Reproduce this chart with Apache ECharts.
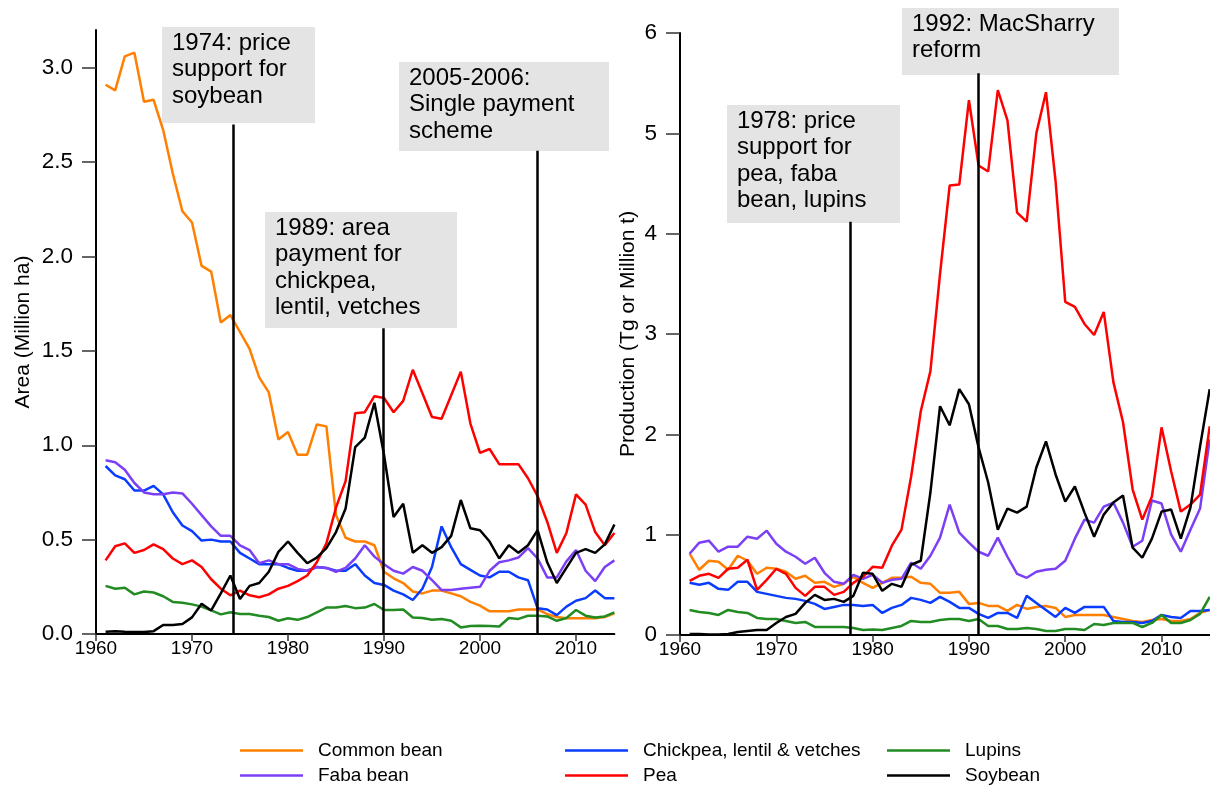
<!DOCTYPE html>
<html>
<head>
<meta charset="utf-8">
<script src="https://cdn.jsdelivr.net/npm/echarts@6/dist/echarts.min.js"></script>
<style>
  html, body { margin: 0; padding: 0; background: #fff; }
  #chart { width: 1210px; height: 789px; }
</style>
</head>
<body>
<div id="chart"></div>
<script>
// years 1961-2015 (area panel stops at 2014)
const years = [1961, 1962, 1963, 1964, 1965, 1966, 1967, 1968, 1969, 1970,
  1971, 1972, 1973, 1974, 1975, 1976, 1977, 1978, 1979, 1980,
  1981, 1982, 1983, 1984, 1985, 1986, 1987, 1988, 1989, 1990,
  1991, 1992, 1993, 1994, 1995, 1996, 1997, 1998, 1999, 2000,
  2001, 2002, 2003, 2004, 2005, 2006, 2007, 2008, 2009, 2010,
  2011, 2012, 2013, 2014, 2015];

const seriesNames = ['Common bean', 'Chickpea, lentil & vetches', 'Lupins', 'Faba bean', 'Pea', 'Soybean'];
const seriesColors = ['#ff7f00', '#0a3cff', '#228b22', '#7b3ff6', '#ff0000', '#000000'];

// Area (Million ha), 1961-2014
const areaCommonBean = [2.91, 2.88, 3.06, 3.08, 2.82, 2.83, 2.67, 2.44, 2.24, 2.18,
  1.95, 1.92, 1.65, 1.69, 1.60, 1.51, 1.36, 1.28, 1.03, 1.07,
  0.95, 0.95, 1.11, 1.10, 0.63, 0.51, 0.49, 0.49, 0.47, 0.33,
  0.295, 0.27, 0.225, 0.215, 0.23, 0.23, 0.215, 0.20, 0.17, 0.15,
  0.12, 0.12, 0.12, 0.13, 0.13, 0.13, 0.105, 0.09, 0.083, 0.083,
  0.083, 0.083, 0.09, 0.11];
const areaChickpea = [0.89, 0.84, 0.82, 0.76, 0.76, 0.785, 0.74, 0.645, 0.575, 0.545,
  0.495, 0.50, 0.49, 0.49, 0.43, 0.40, 0.37, 0.37, 0.37, 0.35,
  0.335, 0.335, 0.355, 0.35, 0.335, 0.335, 0.37, 0.31, 0.27, 0.26,
  0.23, 0.21, 0.18, 0.24, 0.355, 0.57, 0.46, 0.37, 0.34, 0.31,
  0.30, 0.33, 0.33, 0.30, 0.285, 0.136, 0.13, 0.10, 0.145, 0.176,
  0.19, 0.23, 0.19, 0.19];
const areaLupins = [0.255, 0.24, 0.245, 0.21, 0.225, 0.22, 0.20, 0.17, 0.165, 0.157,
  0.145, 0.125, 0.104, 0.115, 0.106, 0.106, 0.097, 0.09, 0.07, 0.083,
  0.075, 0.09, 0.115, 0.14, 0.14, 0.148, 0.137, 0.14, 0.159, 0.127,
  0.127, 0.13, 0.087, 0.085, 0.075, 0.08, 0.07, 0.035, 0.042, 0.044,
  0.042, 0.04, 0.085, 0.08, 0.097, 0.097, 0.093, 0.07, 0.085, 0.127,
  0.097, 0.087, 0.093, 0.115];
const areaFaba = [0.92, 0.91, 0.87, 0.80, 0.75, 0.74, 0.74, 0.75, 0.745, 0.69,
  0.63, 0.57, 0.52, 0.52, 0.47, 0.445, 0.375, 0.39, 0.37, 0.37,
  0.345, 0.335, 0.355, 0.35, 0.33, 0.35, 0.40, 0.47, 0.41, 0.37,
  0.335, 0.32, 0.355, 0.335, 0.285, 0.233, 0.233, 0.24, 0.245, 0.25,
  0.335, 0.38, 0.39, 0.405, 0.455, 0.40, 0.30, 0.30, 0.385, 0.445,
  0.335, 0.28, 0.355, 0.39];
const areaPea = [0.39, 0.465, 0.48, 0.43, 0.445, 0.475, 0.45, 0.40, 0.37, 0.39,
  0.355, 0.29, 0.24, 0.205, 0.23, 0.205, 0.195, 0.21, 0.24, 0.255,
  0.28, 0.31, 0.38, 0.48, 0.67, 0.81, 1.17, 1.175, 1.26, 1.25,
  1.175, 1.235, 1.40, 1.275, 1.15, 1.14, 1.265, 1.39, 1.115, 0.96,
  0.98, 0.90, 0.90, 0.90, 0.825, 0.73, 0.595, 0.43, 0.535, 0.74,
  0.685, 0.54, 0.47, 0.535];
const areaSoybean = [0.012, 0.015, 0.012, 0.01, 0.01, 0.015, 0.048, 0.048, 0.053, 0.088,
  0.16, 0.125, 0.215, 0.31, 0.185, 0.255, 0.27, 0.33, 0.435, 0.49,
  0.43, 0.375, 0.405, 0.455, 0.54, 0.665, 0.99, 1.04, 1.225, 0.95,
  0.62, 0.69, 0.43, 0.47, 0.43, 0.46, 0.52, 0.71, 0.56, 0.55,
  0.49, 0.40, 0.47, 0.43, 0.47, 0.55, 0.38, 0.27, 0.35, 0.43,
  0.45, 0.43, 0.475, 0.58];

// Production (Tg or Million t), 1961-2015
const prodCommonBean = [0.81, 0.65, 0.74, 0.73, 0.65, 0.79, 0.74, 0.61, 0.67, 0.66,
  0.63, 0.56, 0.59, 0.52, 0.53, 0.48, 0.51, 0.58, 0.52, 0.47,
  0.52, 0.57, 0.57, 0.58, 0.52, 0.51, 0.42, 0.42, 0.43, 0.31,
  0.32, 0.29, 0.29, 0.24, 0.30, 0.26, 0.28, 0.29, 0.27, 0.18,
  0.20, 0.20, 0.20, 0.20, 0.18, 0.16, 0.14, 0.13, 0.15, 0.16,
  0.14, 0.14, 0.16, 0.22, 0.25];
const prodChickpea = [0.52, 0.50, 0.52, 0.46, 0.45, 0.53, 0.53, 0.43, 0.41, 0.39,
  0.37, 0.36, 0.34, 0.31, 0.26, 0.28, 0.30, 0.30, 0.29, 0.30,
  0.22, 0.27, 0.30, 0.37, 0.35, 0.32, 0.38, 0.33, 0.27, 0.27,
  0.21, 0.17, 0.22, 0.22, 0.17, 0.39, 0.32, 0.25, 0.18, 0.27,
  0.22, 0.28, 0.28, 0.28, 0.14, 0.13, 0.13, 0.12, 0.14, 0.20,
  0.18, 0.17, 0.24, 0.24, 0.25];
const prodLupins = [0.25, 0.23, 0.22, 0.20, 0.25, 0.23, 0.22, 0.17, 0.16, 0.16,
  0.14, 0.12, 0.13, 0.08, 0.08, 0.08, 0.08, 0.07, 0.05, 0.055,
  0.05, 0.07, 0.09, 0.14, 0.13, 0.13, 0.15, 0.16, 0.16, 0.14,
  0.16, 0.09, 0.09, 0.06, 0.06, 0.07, 0.06, 0.04, 0.04, 0.06,
  0.06, 0.05, 0.11, 0.10, 0.12, 0.12, 0.12, 0.08, 0.12, 0.20,
  0.12, 0.12, 0.15, 0.21, 0.38];
const prodFaba = [0.81, 0.92, 0.94, 0.83, 0.88, 0.88, 0.98, 0.96, 1.04, 0.91,
  0.83, 0.78, 0.71, 0.77, 0.62, 0.53, 0.51, 0.60, 0.56, 0.60,
  0.52, 0.55, 0.56, 0.72, 0.66, 0.79, 0.97, 1.30, 1.02, 0.92,
  0.83, 0.79, 0.97, 0.78, 0.61, 0.57, 0.63, 0.65, 0.66, 0.74,
  0.96, 1.15, 1.12, 1.28, 1.32, 1.12, 0.88, 0.94, 1.34, 1.31,
  1.00, 0.83, 1.05, 1.26, 1.95];
const prodPea = [0.54, 0.59, 0.61, 0.57, 0.66, 0.67, 0.75, 0.45, 0.55, 0.66,
  0.61, 0.47, 0.39, 0.48, 0.48, 0.40, 0.43, 0.52, 0.58, 0.68,
  0.67, 0.89, 1.05, 1.58, 2.23, 2.63, 3.60, 4.48, 4.49, 5.33,
  4.68, 4.62, 5.43, 5.13, 4.21, 4.12, 5.00, 5.41, 4.52, 3.32,
  3.27, 3.10, 2.99, 3.22, 2.52, 2.12, 1.45, 1.15, 1.38, 2.07,
  1.63, 1.23, 1.30, 1.40, 2.08];
const prodSoybean = [0.01, 0.01, 0.005, 0.005, 0.01, 0.03, 0.04, 0.05, 0.05, 0.12,
  0.18, 0.21, 0.32, 0.40, 0.35, 0.36, 0.33, 0.39, 0.62, 0.61,
  0.44, 0.51, 0.48, 0.70, 0.74, 1.42, 2.28, 2.09, 2.45, 2.30,
  1.87, 1.52, 1.05, 1.26, 1.22, 1.28, 1.67, 1.93, 1.60, 1.33,
  1.48, 1.22, 0.98, 1.20, 1.32, 1.39, 0.87, 0.77, 0.96, 1.23,
  1.25, 0.96, 1.27, 1.88, 2.45];

const xTicks = [1960, 1970, 1980, 1990, 2000, 2010];
const areaTicks = [0, 0.5, 1, 1.5, 2, 2.5, 3];
const prodTicks = [0, 1, 2, 3, 4, 5, 6];

// policy events: year where the line stands, value where it meets the note box
const areaEventYears = [1974.3, 1989.9, 2006];
const areaEventTops = [2.70, 1.62, 2.56];
const prodEventYears = [1977.7, 1991];
const prodEventTops = [4.12, 5.60];

const notes = [
  { text: '1974: price\nsupport for\nsoybean', box: [162, 27, 153, 96] },
  { text: '1989: area\npayment for\nchickpea,\nlentil, vetches', box: [265, 212, 192, 116] },
  { text: '2005-2006:\nSingle payment\nscheme', box: [399, 62, 210, 89] },
  { text: '1978: price\nsupport for\npea, faba\nbean, lupins', box: [727, 105, 173, 118] },
  { text: '1992: MacSharry\nreform', box: [902, 8, 217, 67] }
];

const areaData = [areaCommonBean, areaChickpea, areaLupins, areaFaba, areaPea, areaSoybean];
const prodData = [prodCommonBean, prodChickpea, prodLupins, prodFaba, prodPea, prodSoybean];

const FONT = '"Liberation Sans", Arial, sans-serif';

function pairs(vals) {
  return vals.map((v, i) => [years[i], v]);
}

function eventLines(xs, tops) {
  return xs.map((x, i) => [{ coord: [x, 0] }, { coord: [x, tops[i]] }]);
}

function xAxisOpt(gridIndex, max) {
  return {
    type: 'value', gridIndex: gridIndex, min: 1960, max: max,
    splitLine: { show: false },
    axisLine: { lineStyle: { color: '#000', width: 2 } },
    axisTick: { customValues: xTicks, length: 7, lineStyle: { color: '#333', width: 1.5 } },
    axisLabel: { customValues: xTicks, formatter: v => String(v), margin: 5,
      color: '#000', fontSize: 19, fontFamily: FONT }
  };
}

function yAxisOpt(gridIndex, max, ticks, name, gap, fmt) {
  return {
    type: 'value', gridIndex: gridIndex, min: 0, max: max,
    name: name, nameLocation: 'middle', nameRotate: 90, nameGap: gap,
    nameTextStyle: { color: '#000', fontSize: 21, fontFamily: FONT },
    splitLine: { show: false },
    axisLine: { show: true, lineStyle: { color: '#000', width: 2 } },
    axisTick: { show: true, customValues: ticks, length: 14, lineStyle: { color: '#333', width: 1.5 } },
    axisLabel: { customValues: ticks, formatter: fmt, margin: 23,
      color: '#000', fontSize: 22.5, fontFamily: FONT }
  };
}

const series = [];
seriesNames.forEach((name, k) => {
  series.push({
    name: name, type: 'line', xAxisIndex: 0, yAxisIndex: 0,
    data: pairs(areaData[k]), symbol: 'none', silent: true,
    lineStyle: { width: 2.5, color: seriesColors[k] }, itemStyle: { color: seriesColors[k] }
  });
  series.push({
    name: name, type: 'line', xAxisIndex: 1, yAxisIndex: 1,
    data: pairs(prodData[k]), symbol: 'none', silent: true,
    lineStyle: { width: 2.5, color: seriesColors[k] }, itemStyle: { color: seriesColors[k] }
  });
});

const markStyle = {
  symbol: ['none', 'none'], silent: true, animation: false,
  label: { show: false },
  lineStyle: { color: '#000', width: 2.5, type: 'solid' }
};
// attach the policy lines to the soybean series of each panel
series[10].markLine = Object.assign({ data: eventLines(areaEventYears, areaEventTops) }, markStyle);
series[11].markLine = Object.assign({ data: eventLines(prodEventYears, prodEventTops) }, markStyle);

// legend: 3 columns x 2 rows
const legendCols = [240, 565, 887];
const legendRows = [741, 766];
const legends = seriesNames.map((name, k) => ({
  data: [name], left: legendCols[k % 3], top: legendRows[Math.floor(k / 3)],
  padding: 0, icon: 'rect', itemWidth: 63, itemHeight: 2.5,
  selectedMode: false,
  textStyle: { color: '#000', fontSize: 19, fontFamily: FONT, padding: [0, 0, 0, 10] }
}));

const graphics = notes.map(n => ({
  type: 'group', silent: true,
  children: [
    { type: 'rect', shape: { x: n.box[0], y: n.box[1], width: n.box[2], height: n.box[3] },
      style: { fill: '#e4e4e4' } },
    { type: 'text', x: n.box[0] + 10, y: n.box[1] + 3,
      style: { text: n.text, fill: '#000', font: '24px ' + FONT, lineHeight: 26.5,
        verticalAlign: 'top' } }
  ]
}));

const chart = echarts.init(document.getElementById('chart'), null, { renderer: 'canvas' });
chart.setOption({
  animation: false,
  backgroundColor: '#fff',
  grid: [
    { left: 96, top: 30, width: 518.4, height: 604, outerBoundsMode: 'none' },
    { left: 680, top: 33, width: 529.7, height: 602, outerBoundsMode: 'none' }
  ],
  xAxis: [xAxisOpt(0, 2014), xAxisOpt(1, 2015)],
  yAxis: [
    yAxisOpt(0, 3.2, areaTicks, 'Area (Million ha)', 62, v => v.toFixed(1)),
    yAxisOpt(1, 6, prodTicks, 'Production (Tg or Million t)', 41, v => String(v))
  ],
  legend: legends,
  series: series,
  graphic: graphics
});
</script>
</body>
</html>
